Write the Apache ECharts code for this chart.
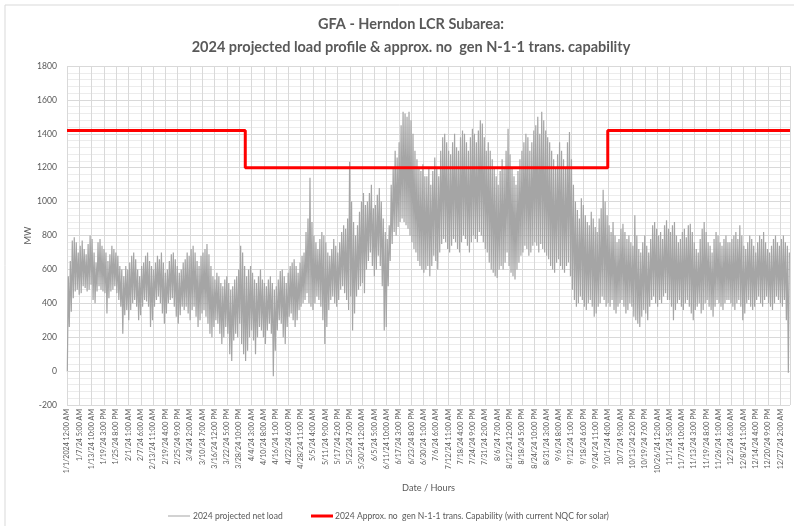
<!DOCTYPE html>
<html>
<head>
<meta charset="utf-8">
<script src="https://cdn.jsdelivr.net/npm/echarts@6/dist/echarts.min.js"></script>
<style>
html,body{margin:0;padding:0;background:#fff;}
#chart{width:794px;height:526px;}
</style>
</head>
<body>
<div id="chart"></div>
<script>
// ---- tick labels of the hourly category axis (one every 149 hours) ----
const tickLabels = [
  "1/1/2024 12:00 AM","1/7/24 5:00 AM","1/13/24 10:00 AM","1/19/24 3:00 PM","1/25/24 8:00 PM",
  "2/1/24 1:00 AM","2/7/24 6:00 AM","2/13/24 11:00 AM","2/19/24 4:00 PM","2/25/24 9:00 PM",
  "3/4/24 2:00 AM","3/10/24 7:00 AM","3/16/24 12:00 PM","3/22/24 5:00 PM","3/28/24 10:00 PM",
  "4/4/24 3:00 AM","4/10/24 8:00 AM","4/16/24 1:00 PM","4/22/24 6:00 PM","4/28/24 11:00 PM",
  "5/5/24 4:00 AM","5/11/24 9:00 AM","5/17/24 2:00 PM","5/23/24 7:00 PM","5/30/24 12:00 AM",
  "6/5/24 5:00 AM","6/11/24 10:00 AM","6/17/24 3:00 PM","6/23/24 8:00 PM","6/30/24 1:00 AM",
  "7/6/24 6:00 AM","7/12/24 11:00 AM","7/18/24 4:00 PM","7/24/24 9:00 PM","7/31/24 2:00 AM",
  "8/6/24 7:00 AM","8/12/24 12:00 PM","8/18/24 5:00 PM","8/24/24 10:00 PM","8/31/24 3:00 AM",
  "9/6/24 8:00 AM","9/12/24 1:00 PM","9/18/24 6:00 PM","9/24/24 11:00 PM",
  "10/1/24 4:00 AM","10/7/24 9:00 AM","10/13/24 2:00 PM","10/19/24 7:00 PM","10/26/24 12:00 AM",
  "11/1/24 5:00 AM","11/7/24 10:00 AM","11/13/24 3:00 PM","11/19/24 8:00 PM","11/26/24 1:00 AM",
  "12/2/24 6:00 AM","12/8/24 11:00 AM","12/14/24 4:00 PM","12/20/24 9:00 PM","12/27/24 2:00 AM"
];
const hoursPerTick = 149;
const totalHours = 8760;

// ---- daily minimum (night) and maximum (peak) of projected net load, MW ----
const dailyMin = [
  // Jan
  0,260,350,430,470,480,450,460,500,490,470,480,510,420,400,470,500,480,470,460,340,430,470,480,500,460,420,380,220,330,360,
  // Feb
  300,360,400,420,380,300,330,380,420,410,380,260,300,380,420,440,400,340,280,340,400,420,430,380,320,280,330,380,
  // Mar
  360,380,340,300,360,380,320,260,300,340,360,320,280,220,200,260,300,280,220,160,200,260,220,100,60,180,220,200,280,160,100,
  // Apr
  60,120,200,240,180,100,200,260,240,200,160,240,280,220,-30,120,240,300,280,200,160,260,320,340,300,260,300,360,380,400,
  // May
  420,460,400,380,360,400,440,420,380,300,160,260,360,420,440,400,380,420,480,500,460,420,360,440,240,340,440,480,500,520,460,
  // Jun
  600,650,700,620,560,600,680,620,500,240,260,500,650,750,820,800,850,880,900,880,860,840,800,760,720,700,650,620,600,580,
  // Jul
  600,620,560,620,680,650,600,700,750,780,760,720,700,740,780,760,720,700,760,800,780,740,700,760,800,780,760,820,800,760,720,
  // Aug
  700,640,600,580,560,550,600,620,600,640,700,620,580,560,540,600,640,680,700,740,720,680,700,740,760,740,700,750,720,700,680,
  // Sep
  660,620,600,580,640,660,620,600,580,620,640,560,480,420,380,400,440,420,380,360,400,420,380,320,340,380,400,440,420,380,
  // Oct
  400,380,420,360,340,380,400,420,380,340,360,400,380,320,300,280,260,320,360,340,300,380,420,440,400,380,420,400,440,460,420,
  // Nov
  420,380,300,360,400,420,380,360,400,420,380,340,300,360,380,400,340,360,400,420,380,360,320,380,420,400,380,360,400,420,
  // Dec
  420,400,380,360,400,420,380,300,340,400,420,380,360,380,420,440,400,380,420,440,400,380,360,400,440,420,400,380,420,300,-10
];
const dailyMax = [
  // Jan
  560,650,770,790,760,700,740,770,720,690,750,800,780,700,640,760,780,740,720,700,650,690,740,720,700,680,620,600,560,620,600,
  // Feb
  640,680,700,660,600,560,620,640,680,700,650,620,600,640,680,660,700,640,580,600,650,690,700,660,620,580,600,640,
  // Mar
  660,700,680,720,740,700,650,620,680,700,720,750,690,620,560,540,580,560,520,500,540,560,520,480,500,540,560,600,740,700,620,
  // Apr
  560,600,620,580,540,520,560,600,540,520,500,540,560,520,480,500,540,590,600,560,520,580,620,640,660,620,580,640,680,700,
  // May
  820,900,1140,880,800,760,720,780,820,800,760,700,680,720,780,740,700,760,820,860,840,900,1235,1000,880,800,860,940,1000,1050,980,
  // Jun
  1000,1050,1100,960,980,1040,1080,1000,900,820,780,860,1100,1200,1300,1260,1350,1450,1530,1520,1500,1530,1480,1400,1300,1250,1200,1180,1220,1150,
  // Jul
  1150,1200,1100,1180,1260,1200,1150,1300,1380,1400,1350,1300,1280,1350,1400,1320,1300,1380,1420,1400,1350,1300,1380,1430,1400,1350,1420,1480,1460,1380,1300,
  // Aug
  1350,1300,1250,1200,1150,1100,1180,1250,1200,1300,1430,1280,1200,1150,1100,1180,1250,1300,1350,1400,1380,1300,1350,1420,1450,1500,1400,1530,1480,1420,1380,
  // Sep
  1350,1300,1250,1200,1280,1350,1300,1250,1200,1350,1410,1250,1100,1000,950,900,1020,980,920,880,860,940,900,850,820,900,960,1070,1000,920,
  // Oct
  860,820,880,800,760,780,840,870,820,780,800,760,740,920,800,720,700,760,800,740,700,780,860,880,840,800,820,780,860,890,840,
  // Nov
  820,860,880,800,760,780,820,840,790,860,870,820,760,720,700,780,840,880,820,760,740,700,780,820,800,760,740,780,800,760,
  // Dec
  760,780,800,820,780,860,800,740,720,760,800,780,740,700,760,800,780,820,760,720,700,740,780,800,760,740,780,800,760,740,700
];
const minHourOfDay = 4;
const maxHourOfDay = 16;

// ---- approx. no-gen N-1-1 transmission capability (step changes, hour index) ----
const capChangeHours = [0, 2160, 6552, 8760];
const capValues = [1420, 1200, 1420, 1420];

const seriesNames = [
  "2024 projected net load",
  "2024 Approx. no  gen N-1-1 trans. Capability (with current NQC for solar)"
];
const titleLines = [
  "GFA - Herndon LCR Subarea:",
  "2024 projected load profile & approx. no  gen N-1-1 trans. capability"
];

// build library data from the arrays
const loadData = [];
for (let d = 0; d < dailyMin.length; d++) {
  loadData.push([d * 24 + minHourOfDay, dailyMin[d]]);
  loadData.push([d * 24 + maxHourOfDay, dailyMax[d]]);
}
const capData = capChangeHours.map((h, i) => [h, capValues[i]]);

const FONT = "Lato";
const TXT = '#595959';
// size a font so that a reference string reaches the width seen in the picture
const ctx = document.createElement('canvas').getContext('2d');
function fitSize(text, width, weight) {
  ctx.font = (weight || 'normal') + ' 100px ' + FONT;
  return Math.round(100 * width / ctx.measureText(text).width * 10) / 10;
}
const titleSize = fitSize(titleLines[1], 440, 'bold');
const xLabSize = fitSize(tickLabels[0], 64);
const yLabSize = fitSize('1800', 20);
const legSize = fitSize(seriesNames[0], 90);
const nameSize = fitSize('Date / Hours', 53);

const COL_GRAY = '#a5a5a5', COL_RED = '#ff0000';
const legendY = 516;

const chart = echarts.init(document.getElementById('chart'), null, {renderer: 'canvas'});
chart.setOption({
  backgroundColor: '#ffffff',
  animation: false,
  textStyle: {fontFamily: FONT, color: TXT},
  title: {
    text: titleLines.join('\n'),
    left: 406, top: 8, textAlign: 'center',
    textStyle: {fontFamily: FONT, fontSize: titleSize, fontWeight: 'bold', color: TXT, lineHeight: 23}
  },
  graphic: [
    {type: 'line', shape: {x1: 5, y1: 5, x2: 794, y2: 5}, style: {stroke: '#d9d9d9', lineWidth: 1}},
    {type: 'line', shape: {x1: 5, y1: 5, x2: 5, y2: 526}, style: {stroke: '#d9d9d9', lineWidth: 1}},
    {type: 'line', shape: {x1: 168, y1: legendY, x2: 190, y2: legendY}, style: {stroke: COL_GRAY, lineWidth: 1}},
    {type: 'text', x: 193, y: legendY, style: {text: seriesNames[0], font: legSize + 'px ' + FONT, fill: TXT, textVerticalAlign: 'middle'}},
    {type: 'line', shape: {x1: 311, y1: legendY, x2: 333, y2: legendY}, style: {stroke: COL_RED, lineWidth: 3}},
    {type: 'text', x: 335, y: legendY, style: {text: seriesNames[1], font: legSize + 'px ' + FONT, fill: TXT, textVerticalAlign: 'middle'}}
  ],
  grid: {left: 67, right: 4, top: 66, bottom: 121, containLabel: false},
  xAxis: {
    type: 'value', min: 0, max: totalHours, interval: hoursPerTick,
    name: 'Date / Hours', nameLocation: 'middle', nameGap: 79, nameMoveOverlap: false,
    nameTextStyle: {fontFamily: FONT, fontSize: nameSize, color: TXT},
    axisLine: {show: true, lineStyle: {color: '#d9d9d9'}},
    axisTick: {show: false},
    axisLabel: {
      rotate: 90, fontSize: xLabSize, color: TXT, margin: 4, fontFamily: FONT,
      showMaxLabel: false, hideOverlap: false,
      formatter: v => (v % hoursPerTick === 0 && tickLabels[v / hoursPerTick] !== undefined) ? tickLabels[v / hoursPerTick] : ''
    },
    splitLine: {show: true, lineStyle: {color: '#d9d9d9', width: 1}}
  },
  yAxis: {
    type: 'value', min: -200, max: 1800, interval: 200,
    name: 'MW', nameLocation: 'middle', nameGap: 34, nameMoveOverlap: false,
    nameTextStyle: {fontFamily: FONT, fontSize: nameSize, color: TXT},
    axisLine: {show: false},
    axisTick: {show: false},
    axisLabel: {fontSize: yLabSize, color: TXT, margin: 10, fontFamily: FONT, formatter: v => String(v)},
    splitLine: {show: true, lineStyle: {color: '#d9d9d9', width: 1}},
    minorTick: {show: false, splitNumber: 5},
    minorSplitLine: {show: true, lineStyle: {color: '#ececec', width: 1}}
  },
  series: [
    {
      name: seriesNames[0], type: 'line', data: loadData,
      symbol: 'none', lineStyle: {color: COL_GRAY, width: 1.2}, itemStyle: {color: COL_GRAY},
      z: 2
    },
    {
      name: seriesNames[1], type: 'line', data: capData, step: 'end',
      symbol: 'none', lineStyle: {color: COL_RED, width: 3}, itemStyle: {color: COL_RED},
      z: 3
    }
  ]
});
</script>
</body>
</html>
